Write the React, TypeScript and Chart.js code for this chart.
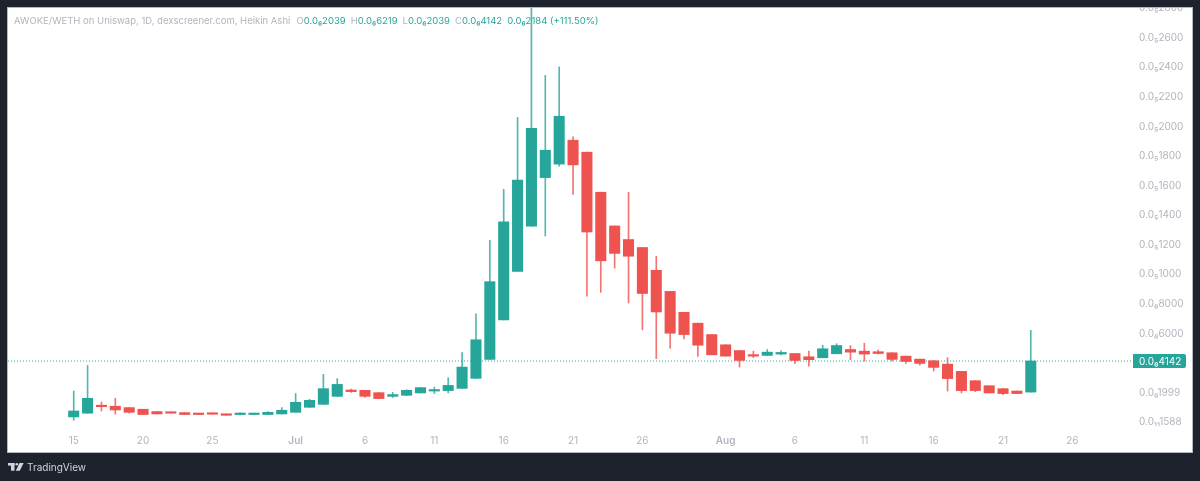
import React, { useEffect, useRef } from "react";
import { Chart, registerables } from "chart.js";

Chart.register(...registerables);

// Prices in units of 1e-9 WETH; one entry per day starting 15 June.
const opens = [36,61,111,108,99,88,72,65,65,61,61,56,52,52,52,56,67,101,121,175,218,216,200,175,182,198,211,214,229,297,425,692,1021,1326,1655,1746,1908,1827,1556,1328,1236,1182,1028,885,744,670,593,524,485,454,452,461,465,443,436,463,492,481,477,470,447,427,416,393,344,281,247,227,211,203.9];
const closes = [76,162,105,83,67,52,56,61,52,52,54,47,56,56,67,81,135,148,227,256,207,175,160,187,216,234,218,249,373,558,951,1356,1638,1989,1840,2070,1741,1287,1092,1142,1123,871,746,602,593,521,456,447,418,447,474,472,418,423,497,519,474,461,465,425,411,398,371,295,214,214,198,194,194,414.2];
const highs = [211,384,137,162,99,88,72,65,65,61,61,56,63,57,72,99,194,155,324,295,225,216,200,202,220,234,238,301,472,733,1231,1576,2062,2900,2346,2404,1930,1827,1556,1328,1556,1182,1123,885,744,670,593,524,485,481,492,483,465,481,521,531,519,535,488,470,447,427,416,436,344,281,247,227,211,621.9];
const lows = [13,61,76,54,61,52,56,61,52,52,54,47,49,51,52,56,67,101,121,175,202,167,160,167,182,198,194,198,229,297,425,692,1021,1326,1260,1732,1542,852,879,1043,807,625,430,501,564,445,456,447,373,436,452,456,396,380,436,463,423,413,461,413,398,386,346,211,198,207,198,187,194,203.9];

const xTickDays = [0,5,10,16,21,26,31,36,41,47,52,57,62,67,72];
const xTickLabels = ["15","20","25","Jul","6","11","16","21","26","Aug","6","11","16","21","26"];
const monthLabels = ["Jul","Aug"];

const yTickValues = [2800,2600,2400,2200,2000,1800,1600,1400,1200,1000,800,600,199.9,0.0016];
const yTickLabels = ["0.0₅2800","0.0₅2600","0.0₅2400","0.0₅2200","0.0₅2000","0.0₅1800","0.0₅1600","0.0₅1400","0.0₅1200","0.0₅1000","0.0₆8000","0.0₆6000","0.0₆1999","0.0₁₁1588"];

const lastPrice = 414.2;
const lastPriceLabel = "0.0₆4142";
const chartTitle = "AWOKE/WETH on Uniswap, 1D, dexscreener.com, Heikin Ashi";
const ohlcLetters = ["O","H","L","C"];
const ohlcValues = ["0.0₆2039","0.0₆6219","0.0₆2039","0.0₆4142"];
const changeText = "0.0₆2184 (+111.50%)";
const brandName = "TradingView";

const GREEN = "#26a69a";
const RED = "#ef5350";
const GREEN_WICK = "rgba(38,166,154,0.8)";
const RED_WICK = "rgba(239,83,80,0.8)";
const DARK = "#1e222d";
const GREY = "#b2b5be";

const X_MIN = -4.737;
const X_MAX = 76.37;

const days = opens.map((_, i) => i);
const colours = days.map((i) => (closes[i] >= opens[i] ? GREEN : RED));
const wickColours = days.map((i) => (closes[i] >= opens[i] ? GREEN_WICK : RED_WICK));

const framePlugin = {
  id: "frame",
  beforeDraw(chart: any) {
    const c = chart.ctx;
    c.save();
    c.fillStyle = "#ffffff";
    c.fillRect(0, 0, 1200, 481);
    c.restore();
  },
  afterDraw(chart: any) {
    const c = chart.ctx;
    c.save();
    // dark frame
    c.fillStyle = DARK;
    c.fillRect(0, 0, 1200, 8);
    c.fillRect(0, 0, 8, 481);
    c.fillRect(1192, 0, 8, 481);
    c.fillRect(0, 452, 1200, 29);
    c.strokeStyle = "#b4b7bf";
    c.lineWidth = 1;
    c.strokeRect(7.5, 7.5, 1185, 445);

    // last price tag
    const y = chart.scales.y.getPixelForValue(lastPrice);
    c.fillStyle = GREEN;
    c.beginPath();
    c.roundRect(1133, y - 7, 53, 14, [0, 2, 2, 0]);
    c.fill();
    c.fillStyle = "#ffffff";
    c.font = "10px Inter";
    c.textBaseline = "middle";
    c.textAlign = "left";
    c.fillText(lastPriceLabel, 1139, y + 0.5);

    // legend line
    c.font = "9.5px Inter";
    let x = 14;
    const ly = 21.5;
    c.fillStyle = GREY;
    c.fillText(chartTitle, x, ly);
    x = 296.4;
    ohlcLetters.forEach((letter, i) => {
      c.fillStyle = GREY;
      c.fillText(letter, x, ly);
      x += c.measureText(letter).width;
      c.fillStyle = GREEN;
      c.fillText(ohlcValues[i], x, ly);
      x += c.measureText(ohlcValues[i]).width + 5;
    });
    c.fillStyle = GREEN;
    c.fillText(changeText, x, ly);

    // brand
    c.fillStyle = "#d1d4dc";
    c.fillRect(8, 463, 6.5, 2.6);
    c.fillRect(11, 463, 3.5, 7.7);
    c.beginPath();
    c.arc(16.8, 464.3, 1.3, 0, Math.PI * 2);
    c.fill();
    c.beginPath();
    c.moveTo(19.5, 463);
    c.lineTo(23.6, 463);
    c.lineTo(19.8, 470.7);
    c.lineTo(15.8, 470.7);
    c.closePath();
    c.fill();
    c.font = "10px Inter";
    c.fillText(brandName, 27, 467.5);
    c.restore();
  },
};

export default function App() {
  const ref = useRef<HTMLCanvasElement>(null);
  useEffect(() => {
    document.body.style.margin = "0";
    const chart = new Chart(ref.current as HTMLCanvasElement, {
      type: "bar",
      data: {
        datasets: [
          {
            type: "line",
            data: [
              { x: X_MIN, y: lastPrice },
              { x: X_MAX, y: lastPrice },
            ],
            borderColor: GREEN,
            borderWidth: 1,
            borderDash: [1, 2],
            pointRadius: 0,
            order: 3,
          },
          {
            data: days.map((i) => ({ x: i, y: [lows[i], highs[i]] })),
            backgroundColor: wickColours,
            barThickness: 1,
            grouped: false,
            order: 2,
          },
          {
            data: days.map((i) => ({
              x: i,
              y: [Math.min(opens[i], closes[i]), Math.max(opens[i], closes[i])],
            })),
            backgroundColor: colours,
            barThickness: 10.4,
            minBarLength: 1.5,
            grouped: false,
            order: 1,
          },
        ],
      } as any,
      options: {
        responsive: false,
        animation: false,
        layout: { autoPadding: false, padding: { left: 8, right: 8, top: 0, bottom: 29 } },
        plugins: { legend: { display: false }, tooltip: { enabled: false }, title: { display: false } },
        scales: {
          x: {
            type: "linear",
            offset: false,
            min: X_MIN,
            max: X_MAX,
            grid: { display: false, drawTicks: false },
            border: { display: false },
            afterFit(s: any) {
              s.height = 22;
              s.paddingLeft = 0;
              s.paddingRight = 0;
              s.paddingTop = 0;
              s.paddingBottom = 0;
            },
            afterBuildTicks(s: any) {
              s.ticks = xTickDays.map((value) => ({ value }));
            },
            ticks: {
              autoSkip: false,
              maxRotation: 0,
              padding: 5,
              color: GREY,
              font: (ctx: any) => ({
                family: "Inter",
                size: 10,
                weight: monthLabels.includes(xTickLabels[ctx.index]) ? "600" : "normal",
              }),
              callback: (_v: any, i: number) => xTickLabels[i],
            },
          },
          y: {
            type: "linear",
            position: "right",
            min: -52.6,
            max: 2856.5,
            grid: { display: false, drawTicks: false },
            border: { display: false },
            afterFit(s: any) {
              s.width = 59;
              s.paddingTop = 0;
              s.paddingBottom = 0;
              s.paddingLeft = 0;
              s.paddingRight = 0;
            },
            afterBuildTicks(s: any) {
              s.ticks = yTickValues.map((value) => ({ value }));
            },
            ticks: {
              autoSkip: false,
              padding: 6,
              color: GREY,
              font: { family: "Inter", size: 10 },
              callback: (_v: any, i: number) => yTickLabels[i],
            },
          },
        },
      } as any,
      plugins: [framePlugin],
    });
    return () => chart.destroy();
  }, []);
  return <canvas ref={ref} width={1200} height={481} style={{ display: "block" }} />;
}
